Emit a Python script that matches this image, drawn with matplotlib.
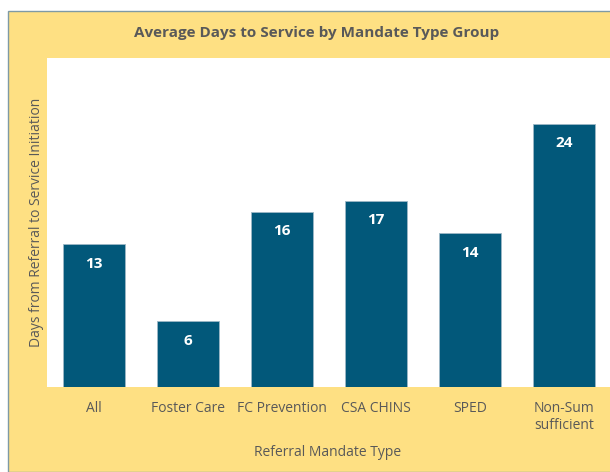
import matplotlib.pyplot as plt
from matplotlib.patches import Rectangle

categories = ["All", "Foster Care", "FC Prevention", "CSA CHINS", "SPED", "Non-Sum\nsufficient"]
avg_days = [13, 6, 16, 17, 14, 24]

bar_color = "#02587A"
panel_color = "#FEE083"
text_color = "#595959"

plt.rcParams['font.family'] = ['Open Sans', 'DejaVu Sans']

fig = plt.figure(figsize=(6.1, 4.72), dpi=100)
fig.patch.set_facecolor("white")

# yellow panel behind the chart
panel = Rectangle((8/610, 0), 1.0, 1 - 11/472, transform=fig.transFigure,
                  facecolor=panel_color, edgecolor="#7F9AA5", linewidth=1.0, zorder=-5)
fig.patches.append(panel)

ax = fig.add_axes([47/610, 85/472, 564/610, 329/472])
ax.set_zorder(1)
ax.set_facecolor("white")
x = range(len(categories))
bars = ax.bar(x, avg_days, width=0.66, color=bar_color, edgecolor="#9DB8C6", linewidth=0.6)
ax.set_ylim(0, 30)
ax.set_xlim(-0.5, len(categories) - 0.5)
ax.set_yticks([])
ax.set_xticks(list(x))
ax.set_xticklabels(categories, fontsize=10, color=text_color)
ax.tick_params(axis='x', length=0, pad=10)
for s in ax.spines.values():
    s.set_visible(False)

for b, v in zip(bars, avg_days):
    ax.annotate(str(v), (b.get_x() + b.get_width()/2, v), xytext=(0, -14),
                textcoords="offset points", ha="center", va="center",
                color="white", fontsize=11, fontweight="bold")

fig.text(317/610, 1 - 33/472, "Average Days to Service by Mandate Type Group",
         ha="center", va="center", fontsize=11, fontweight="bold", color=text_color)
fig.text(328/610, 1 - 452/472, "Referral Mandate Type", ha="center", va="center",
         fontsize=10, color=text_color)
fig.text(37/610, 1 - 222/472, "Days from Referral to Service Initiation", ha="center",
         va="center", rotation=90, fontsize=10, color=text_color)

fig.savefig("out.png", dpi=100)
